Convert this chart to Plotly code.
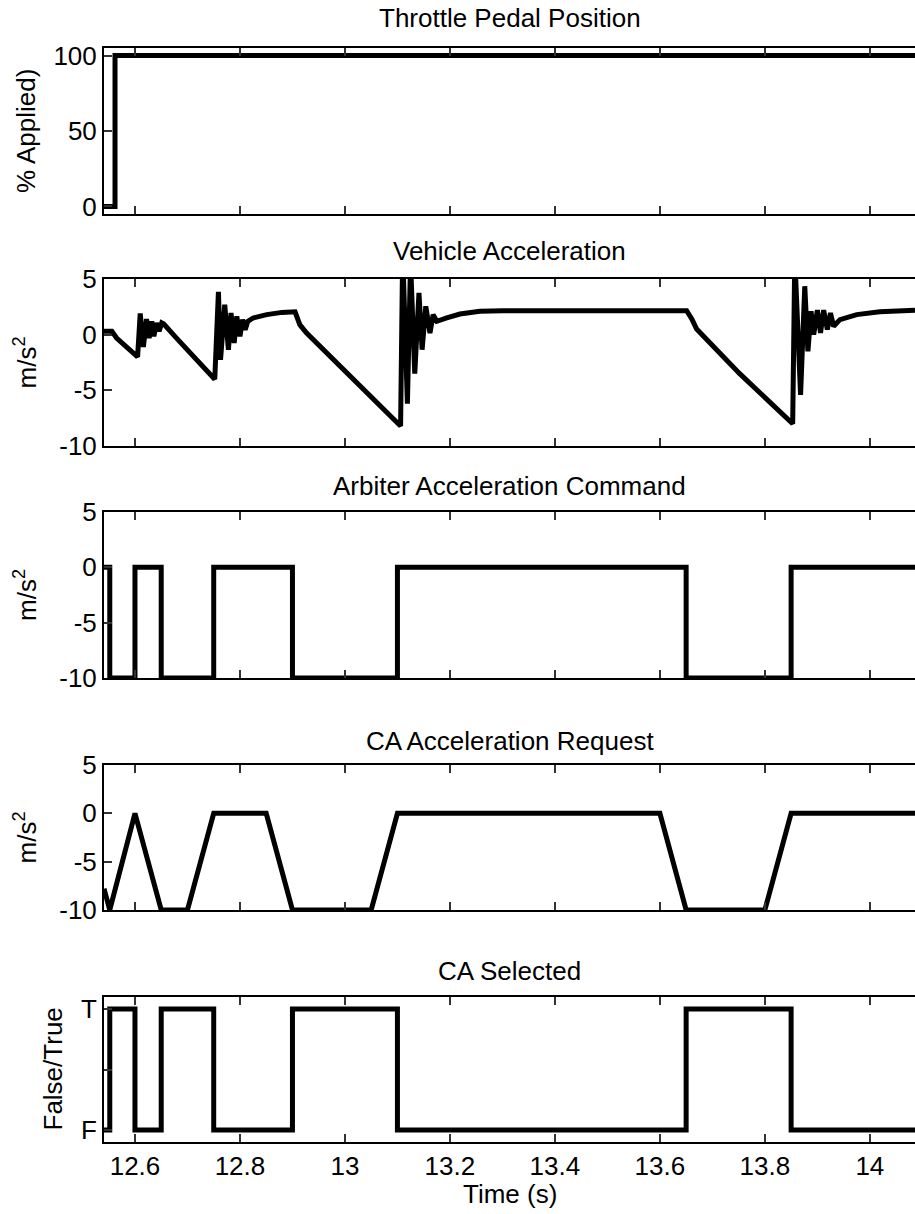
import plotly.graph_objects as go

# ---- signals -------------------------------------------------------------
# Throttle pedal position (% applied), step-held between change points
thr_t = [12.541, 12.562, 14.086]
thr_v = [0, 100, 100]

# Vehicle acceleration (m/s^2)
va_t = [12.541, 12.556, 12.565, 12.575, 12.585, 12.595, 12.605,
        12.610, 12.616, 12.622, 12.627, 12.632, 12.636, 12.641, 12.646, 12.651, 12.655,
        12.680, 12.752,
        12.759, 12.763, 12.771, 12.778, 12.783, 12.789, 12.794, 12.800, 12.805, 12.810, 12.815,
        12.825, 12.851, 12.880, 12.905, 12.914, 12.927, 12.977, 13.041, 13.106,
        13.110, 13.119, 13.125, 13.133, 13.141, 13.147, 13.154, 13.162, 13.168, 13.175,
        13.194, 13.219, 13.257, 13.301, 13.651, 13.661, 13.670, 13.752, 13.853,
        13.857, 13.868, 13.876, 13.882, 13.888, 13.893, 13.900, 13.906, 13.912, 13.919,
        13.925, 13.931, 13.943, 13.975, 14.019, 14.086]
va_a = [0.3, 0.3, -0.3, -0.7, -1.1, -1.5, -2.0,
        1.9, -1.1, 1.4, -0.3, 1.2, -0.15, 1.05, 0.3, 1.05, 0.95,
        -0.35, -4.0,
        3.85, -2.25, 2.7, -1.35, 1.95, -0.75, 1.65, -0.15, 1.35, 0.45, 1.2,
        1.5, 1.8, 2.0, 2.05, 0.9, 0.15, -2.2, -5.2, -8.2,
        7.5, -6.2, 6.5, -3.5, 3.75, -1.35, 2.55, 0.15, 1.8, 1.2,
        1.5, 1.85, 2.1, 2.15, 2.15, 1.4, 0.5, -3.5, -8.0,
        7.0, -5.4, 4.35, -1.5, 2.1, 0.0, 2.2, 0.15, 2.2, 0.45,
        1.95, 0.75, 1.35, 1.8, 2.05, 2.2]

# Arbiter acceleration command (m/s^2), step-held
arb_t = [12.541, 12.552, 12.600, 12.650, 12.750, 12.900, 13.100, 13.650, 13.850, 14.086]
arb_v = [0, -10, 0, -10, 0, -10, 0, -10, 0, 0]

# Collision-avoidance acceleration request (m/s^2)
req_t = [12.541, 12.552, 12.600, 12.650, 12.700, 12.750, 12.850, 12.900,
         13.050, 13.100, 13.600, 13.650, 13.800, 13.850, 14.086]
req_v = [-7.8, -10, 0, -10, -10, 0, 0, -10, -10, 0, 0, -10, -10, 0, 0]

# CA selected flag (0 = False, 1 = True), step-held
sel_t = [12.541, 12.552, 12.600, 12.650, 12.750, 12.900, 13.100, 13.650, 13.850, 14.086]
sel_v = [0, 1, 0, 1, 0, 1, 0, 1, 0, 0]

# ---- axis labelling ------------------------------------------------------
titles = ["Throttle Pedal Position", "Vehicle Acceleration",
          "Arbiter Acceleration Command", "CA Acceleration Request", "CA Selected"]
ylabels = ["% Applied)", "m/s<sup>2</sup>", "m/s<sup>2</sup>", "m/s<sup>2</sup>", "False/True"]
x_ticks = [12.6, 12.8, 13.0, 13.2, 13.4, 13.6, 13.8, 14.0]
x_ticktext = ["12.6", "12.8", "13", "13.2", "13.4", "13.6", "13.8", "14"]
acc_ticks = [-10, -5, 0, 5]
thr_ticks = [0, 50, 100]
sel_ticks = [0, 0.5, 1]
sel_ticktext = ["F", "", "T"]

# ---- layout geometry (pixels) -------------------------------------------
W, H = 915, 1214
PLOT_LEFT = 104
panel_px = [(48, 214), (279, 446), (512, 678), (765, 910), (997, 1142)]
title_px = [18, 251, 486, 741, 971]
ylabel_x_px = [26, 26, 26, 26, 52]
y_ranges = [[-5, 105], [-10, 5], [-10, 5], [-10, 5], [-0.1, 1.1]]
X_RANGE = [12.541, 14.086]

FONT = "Liberation Sans, Arial, Helvetica, sans-serif"
FS = 26


def py(p):
    return 1 - p / H


def px(p):
    return p / W


series = [(thr_t, thr_v, "hv"), (va_t, va_a, "linear"), (arb_t, arb_v, "hv"),
          (req_t, req_v, "linear"), (sel_t, sel_v, "hv")]

fig = go.Figure()
layout = dict(
    width=W, height=H,
    margin=dict(l=0, r=0, t=0, b=0, autoexpand=False),
    paper_bgcolor="white", plot_bgcolor="white",
    showlegend=False,
    font=dict(family=FONT, size=FS, color="black"),
)
annotations = []

for i, ((t, v, shape), (top, bot)) in enumerate(zip(series, panel_px)):
    n = "" if i == 0 else str(i + 1)
    fig.add_trace(go.Scatter(x=t, y=v, mode="lines",
                             line=dict(color="black", width=5, shape=shape),
                             xaxis="x" + n, yaxis="y" + n, hoverinfo="skip"))
    last = i == len(series) - 1
    layout["xaxis" + n] = dict(
        domain=[px(PLOT_LEFT), 1.0], range=X_RANGE, anchor="y" + n,
        showline=True, linecolor="black", linewidth=2, mirror="ticks",
        ticks="inside", ticklen=8, tickwidth=1.5, tickcolor="#333",
        tickvals=x_ticks, ticktext=x_ticktext, showticklabels=last,
        ticklabelstandoff=0,
        showgrid=False, zeroline=False, tickfont=dict(size=FS),
    )
    if i == 0:
        yt, ytt = thr_ticks, [str(k) for k in thr_ticks]
    elif last:
        yt, ytt = sel_ticks, sel_ticktext
    else:
        yt, ytt = acc_ticks, [str(k) for k in acc_ticks]
    layout["yaxis" + n] = dict(
        domain=[py(bot), py(top)], range=y_ranges[i], anchor="x" + n,
        showline=True, linecolor="black", linewidth=2, mirror=False,
        ticks="inside", ticklen=8, tickwidth=1.5, tickcolor="#333",
        tickvals=yt, ticktext=ytt, ticklabelstandoff=0,
        showgrid=False, zeroline=False, tickfont=dict(size=FS),
    )
    annotations.append(dict(text=titles[i], x=px(510), y=py(title_px[i]),
                            xref="paper", yref="paper", showarrow=False,
                            xanchor="center", yanchor="middle",
                            font=dict(size=FS)))
    annotations.append(dict(text=ylabels[i], x=px(ylabel_x_px[i]), y=py((top + bot) / 2),
                            xref="paper", yref="paper", showarrow=False,
                            textangle=-90, xanchor="center", yanchor="middle",
                            font=dict(size=FS)))

annotations.append(dict(text="Time (s)", x=px(510), y=py(1194), xref="paper", yref="paper",
                        showarrow=False, xanchor="center", yanchor="middle",
                        font=dict(size=FS)))
layout["annotations"] = annotations
fig.update_layout(**layout)
fig.write_html("out.html")
